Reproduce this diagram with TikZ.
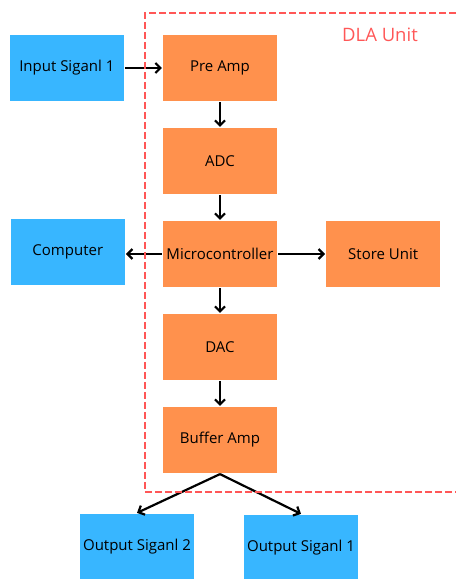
\documentclass[tikz,border=0pt]{standalone}
\usepackage{fontspec}
\setmainfont{Open Sans}
\usepackage{tikz}
\usetikzlibrary{positioning}
\usetikzlibrary{arrows.meta}
\definecolor{inblue}{HTML}{38B6FF}
\definecolor{unitorange}{HTML}{FF914D}
\definecolor{dlared}{HTML}{FF5757}

\begin{document}
\begin{tikzpicture}[
            x = 1pt, y = -1pt,
            > = {Straight Barb[length=5pt,width=10pt]}, % arrow head style
            node distance = 93pt, % distance between stages
            line width = 2.2pt
        ]

        \tikzstyle{block}=[
            draw = none,
            minimum width = 114pt,
            minimum height = 66pt,
            inner sep = 0pt,
            font = \fontsize{15}{18}\selectfont
        ]
        \tikzstyle{unit}=[block, fill = unitorange]
        \tikzstyle{port}=[block, fill = inblue]

        \useasboundingbox (0,0) rectangle (456,579);

	% signal chain inside the unit
        \node[unit] (PA) at (220,68) {Pre Amp};
        \node[unit] (ADC) [below of = PA] {ADC};
        \node[unit] (MC) [below of = ADC] {Microcontroller};
        \node[unit] (DAC) [below of = MC] {DAC};
        \node[unit] (BA) [below of = DAC] {Buffer Amp};
        \node[unit] (SU) [right = 47pt of MC] {Store Unit};

        % outside blocks
        \node[port] (IN) [left = 37pt of PA] {Input Siganl 1};
        \node[port] (PC) [left = 36pt of MC, yshift = 2pt] {Computer};
        \node[port] (OS2) at (137,547) {Output Siganl 2};
        \node[port] (OS1) at (301,548) {Output Siganl 1};

        \draw[->] (IN) -- (PA);
        \draw[->] (PA) -- (ADC);
        \draw[->] (ADC) -- (MC);
        \draw[->] (MC) -- (DAC);
        \draw[->] (DAC) -- (BA);
        \draw[->] (MC.west) -- (PC.east |- MC.west);
        \draw[->] (MC) -- (SU);
        \draw[->] (BA.south) -- (OS2.north);
        \draw[->] (BA.south) -- (OS1.north);

        % unit frame, open on the right
        \coordinate (TR) at (456,13);
        \coordinate (BL) at (145,492);
        \draw[dlared, line width = 2.5pt, dash pattern = on 7pt off 3pt]
            (TR) -| (BL) -- (BL -| TR);
        \node[text = dlared, font = \fontsize{18.5}{22}\selectfont] (DLA) at (380,35) {DLA Unit};

\end{tikzpicture}
\end{document}
